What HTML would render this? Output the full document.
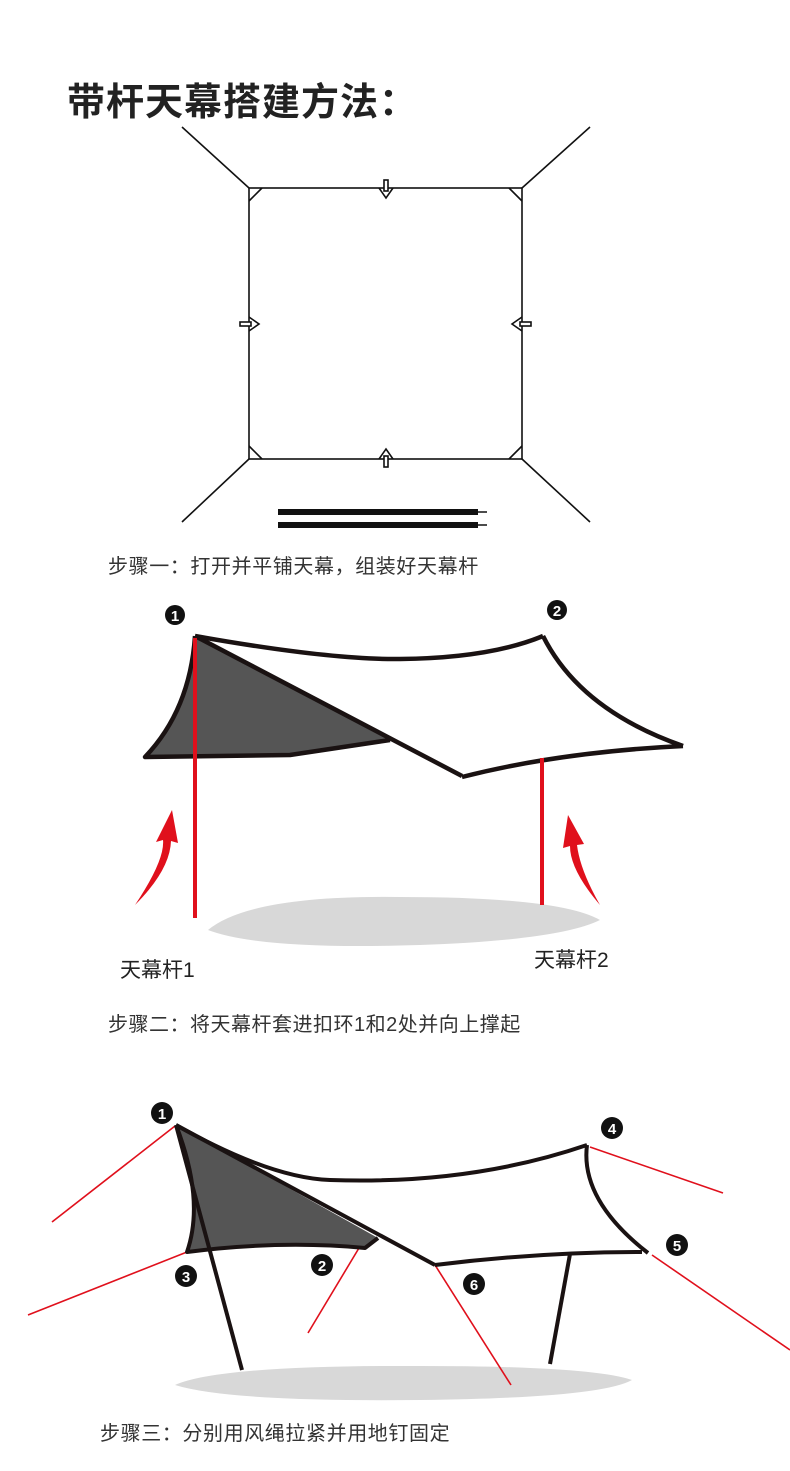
<!DOCTYPE html>
<html><head><meta charset="utf-8"><style>
html,body{margin:0;padding:0;background:#fff;}
body{width:790px;height:1466px;overflow:hidden;}
svg text{font-family:"Liberation Sans","Noto Sans CJK SC",sans-serif;}
</style></head><body>
<svg width="790" height="1466" viewBox="0 0 790 1466" xmlns="http://www.w3.org/2000/svg">
<text x="67" y="115" font-size="38" font-weight="bold" fill="#222" letter-spacing="1">带杆天幕搭建方法：</text>

<!-- Step 1 -->
<g stroke="#111" stroke-width="1.6" fill="none">
<rect x="249" y="188" width="273" height="271"/>
<line x1="182" y1="127" x2="249" y2="188"/>
<line x1="590" y1="127" x2="522" y2="188"/>
<line x1="182" y1="522" x2="249" y2="459"/>
<line x1="590" y1="522" x2="522" y2="459"/>
<path d="M249 201 L262 188 M509 188 L522 201 M249 446 L262 459 M509 459 L522 446"/>
<path d="M379 188 L386 198 L393 188"/>
<path d="M379 459 L386 449 L393 459"/>
<path d="M249 317 L259 324 L249 331"/>
<path d="M522 317 L512 324 L522 331"/>
<rect x="384" y="180" width="4" height="11" fill="#fff"/>
<rect x="384" y="456" width="4" height="11" fill="#fff"/>
<rect x="240" y="322" width="11" height="4" fill="#fff"/>
<rect x="520" y="322" width="11" height="4" fill="#fff"/>
</g>
<rect x="278" y="509" width="200" height="6" fill="#111"/>
<rect x="278" y="522" width="200" height="6" fill="#111"/>
<line x1="478" y1="512" x2="487" y2="512" stroke="#111" stroke-width="1.5"/>
<line x1="478" y1="525" x2="487" y2="525" stroke="#111" stroke-width="1.5"/>
<text x="108" y="573" font-size="20" fill="#333" letter-spacing="0.6">步骤一：打开并平铺天幕，组装好天幕杆</text>

<!-- Step 2 -->
<path d="M208 930 Q250 895 400 897 Q560 897 600 920 Q560 940 420 945 Q260 950 208 930 Z" fill="#d8d8d8"/>
<path d="M195 636 Q190 710 145 757 L290 755 L390 740 Z" fill="#555"/>
<g stroke="#1a1212" stroke-width="4.5" fill="none" stroke-linejoin="round">
<path d="M195 636 Q190 710 145 757 L290 755 L390 740"/>
<path d="M195 636 L462 776"/>
<path d="M195 636 Q330 660 400 659 Q490 658 543 636"/>
<path d="M543 636 Q580 710 683 746"/>
<path d="M683 746 Q560 752 462 777"/>
</g>
<line x1="195" y1="638" x2="195" y2="918" stroke="#e0101c" stroke-width="4"/>
<line x1="542" y1="758" x2="542" y2="905" stroke="#e0101c" stroke-width="4"/>
<path d="M135 905 Q165 860 163 840 L156 842 L172 810 L178 843 L171 841 Q170 870 135 905 Z" fill="#e0101c"/>
<path d="M600 905 Q570 870 570 846 L563 848 L568 815 L584 844 L577 845 Q580 870 600 905 Z" fill="#e0101c"/>
<circle cx="175" cy="615" r="10" fill="#111"/><text x="175" y="621" font-size="15" font-weight="bold" fill="#fff" text-anchor="middle">1</text>
<circle cx="557" cy="610" r="10" fill="#111"/><text x="557" y="616" font-size="15" font-weight="bold" fill="#fff" text-anchor="middle">2</text>
<text x="120" y="977" font-size="21" fill="#222">天幕杆1</text>
<text x="534" y="967" font-size="21" fill="#222">天幕杆2</text>
<text x="108" y="1031" font-size="20" fill="#333" letter-spacing="0.5">步骤二：将天幕杆套进扣环1和2处并向上撑起</text>

<!-- Step 3 -->
<path d="M175 1385 Q220 1365 420 1366 Q590 1366 632 1380 Q600 1398 420 1400 Q230 1402 175 1385 Z" fill="#d8d8d8"/>
<g stroke="#e0101c" stroke-width="1.6">
<line x1="175" y1="1126" x2="52" y2="1222"/>
<line x1="187" y1="1252" x2="28" y2="1315"/>
<line x1="359" y1="1248" x2="308" y2="1333"/>
<line x1="435" y1="1265" x2="511" y2="1385"/>
<line x1="590" y1="1147" x2="723" y2="1193"/>
<line x1="652" y1="1255" x2="790" y2="1350"/>
</g>
<path d="M176 1125 Q205 1200 187 1252 Q280 1240 365 1248 L378 1238 Z" fill="#555"/>
<g stroke="#1a1212" stroke-width="4" fill="none" stroke-linejoin="round">
<path d="M176 1125 Q205 1200 187 1252 Q280 1240 365 1248 L378 1238"/>
<path d="M176 1125 L435 1265"/>
<path d="M176 1125 Q270 1178 330 1180 Q470 1185 587 1145"/>
<path d="M587 1145 Q580 1200 648 1253"/>
<path d="M435 1265 Q540 1252 642 1252"/>
<line x1="176" y1="1125" x2="242" y2="1370"/>
<line x1="570" y1="1254" x2="550" y2="1364"/>
</g>
<g font-size="15" font-weight="bold" fill="#fff" text-anchor="middle">
<circle cx="162" cy="1113" r="11" fill="#111"/><text x="162" y="1119">1</text>
<circle cx="322" cy="1265" r="11" fill="#111"/><text x="322" y="1271">2</text>
<circle cx="186" cy="1276" r="11" fill="#111"/><text x="186" y="1282">3</text>
<circle cx="612" cy="1128" r="11" fill="#111"/><text x="612" y="1134">4</text>
<circle cx="677" cy="1245" r="11" fill="#111"/><text x="677" y="1251">5</text>
<circle cx="474" cy="1284" r="11" fill="#111"/><text x="474" y="1290">6</text>
</g>
<text x="100" y="1440" font-size="20" fill="#333" letter-spacing="0.6">步骤三：分别用风绳拉紧并用地钉固定</text>
</svg>
</body></html>
